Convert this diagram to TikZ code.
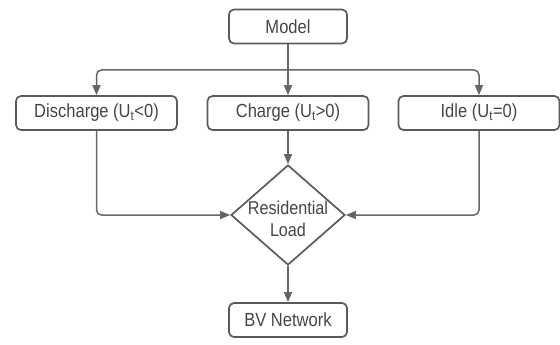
\documentclass[tikz,border=0pt]{standalone}
\usepackage{fontspec}
\setmainfont[FakeStretch=0.87]{Liberation Sans}
\usetikzlibrary{arrows.meta,shapes.geometric}
\definecolor{boxline}{HTML}{5A5A5A}
\definecolor{txt}{HTML}{454545}
\definecolor{conn}{HTML}{666666}
\tikzset{
  box/.style={draw=boxline, line width=1.7pt, rounded corners=5pt, minimum height=34pt, inner sep=0pt, text=txt, font=\fontsize{19}{22}\selectfont},
  decision/.style={draw=boxline, line width=1.7pt, diamond, minimum width=114pt, minimum height=100pt, inner sep=0pt},
  lbl/.style={text=txt, font=\fontsize{18.6}{22}\selectfont, align=center},
  conline/.style={draw=conn, line width=1.5pt, rounded corners=5pt},
  arr/.style={conline, -{Triangle[length=10pt,width=8pt]}}
}
\begin{document}
\begin{tikzpicture}[x=1pt,y=-1pt]
\useasboundingbox (0,0) rectangle (560,345);
\node[box, minimum width=118pt] (model) at (288,26.5) {Model};
\node[box, minimum width=161pt] (dis) at (96.5,113) {Discharge (U\textsubscript{t}<0)};
\node[box, minimum width=161pt] (chg) at (288,113) {Charge (U\textsubscript{t}>0)};
\node[box, minimum width=161pt] (idle) at (479,113) {Idle (U\textsubscript{t}=0)};
\node[decision] (load) at (288,215) {};
\node[lbl] (loadtxt) at (288,219) {Residential\\Load};
\node[box, minimum width=118pt] (bv) at (288,320) {BV Network};
\coordinate (split) at (288,70);
\draw[conline] (model.south) -- (split);
\draw[arr] (split) -| (dis.north);
\draw[arr] (split) -| (idle.north);
\draw[arr] (split) -- (chg.north);
\draw[arr] (dis.south) |- (load.west);
\draw[arr] (idle.south) |- (load.east);
\draw[arr] (chg.south) -- (load.north);
\draw[arr] (load.south) -- (bv.north);
\end{tikzpicture}
\end{document}
